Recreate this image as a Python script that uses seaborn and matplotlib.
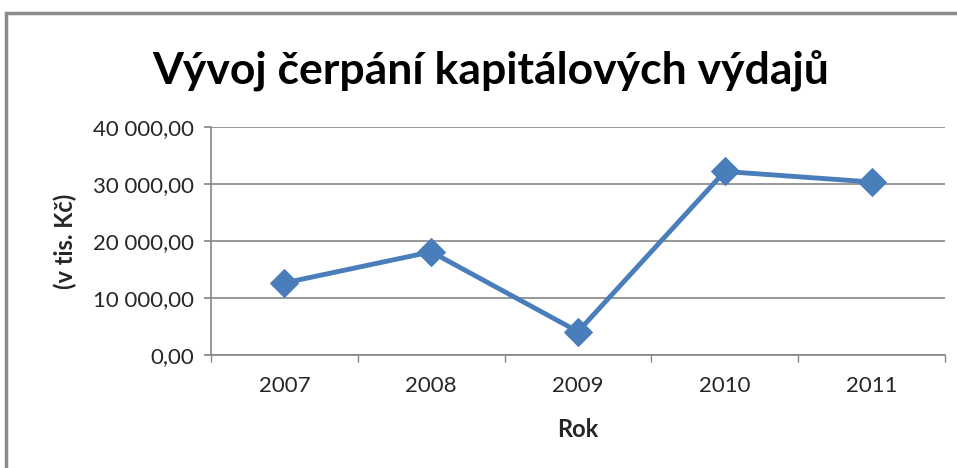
import matplotlib
matplotlib.use("Agg")
import matplotlib.pyplot as plt
import seaborn as sns
import pandas as pd
from matplotlib.patches import Rectangle
from matplotlib.ticker import FuncFormatter, FixedLocator

years = ["2007", "2008", "2009", "2010", "2011"]
values = [12650, 18100, 4100, 32200, 30350]
y_ticks = [0, 10000, 20000, 30000, 40000]

title = "Vývoj čerpání kapitálových výdajů"
xlabel = "Rok"
ylabel = "(v tis. Kč)"

sns.set_theme(style="white")
plt.rcParams['font.family'] = ['Lato', 'DejaVu Sans']

df = pd.DataFrame({"Rok": years, "Hodnota": values})

fig = plt.figure(figsize=(9.57, 4.68), dpi=100)
fig.patch.set_facecolor("white")
ax = fig.add_axes([211/957, 1-355/468, (945-211)/957, (355-127)/468])

sns.lineplot(data=df, x="Rok", y="Hodnota", ax=ax, color="#4A7EBB", linewidth=3.5,
             marker="D", markersize=14, markeredgecolor="#4A7EBB", sort=False)

grey = "#868686"
ax.set_ylim(0, 40000)
ax.set_xlim(-0.5, 4.5)
ax.set_yticks(y_ticks)
ax.yaxis.set_major_formatter(FuncFormatter(lambda v, p: f"{v:,.2f}".replace(",", " ").replace(".", ",")))
ax.grid(axis="y", color=grey, linewidth=1.2)
ax.set_axisbelow(True)
for s in ["top", "right"]:
    ax.spines[s].set_visible(False)
for s in ["left", "bottom"]:
    ax.spines[s].set_color(grey)
    ax.spines[s].set_linewidth(1.2)

ax.tick_params(axis="y", which="major", length=5, color=grey, direction="out",
               labelsize=16, pad=7, left=True)
ax.xaxis.set_minor_locator(FixedLocator([-0.5, 0.5, 1.5, 2.5, 3.5, 4.5]))
ax.tick_params(axis="x", which="minor", length=5, color=grey, direction="out", bottom=True)
ax.tick_params(axis="x", which="major", length=0, labelsize=16, pad=15)

ax.set_xlabel(xlabel, fontsize=17, fontweight="bold", labelpad=16)
ax.set_ylabel(ylabel, fontsize=17, fontweight="bold", labelpad=12)

fig.text(491/957, 1-70/468, title, fontsize=32, fontweight="bold",
         ha="center", va="center", color="black")

fig.add_artist(Rectangle((6/957, -0.1), 1.2, 1-13/468+0.1, transform=fig.transFigure,
                         fill=False, edgecolor="#8c8c8c", linewidth=2.5))

fig.savefig("out.png", dpi=100)
